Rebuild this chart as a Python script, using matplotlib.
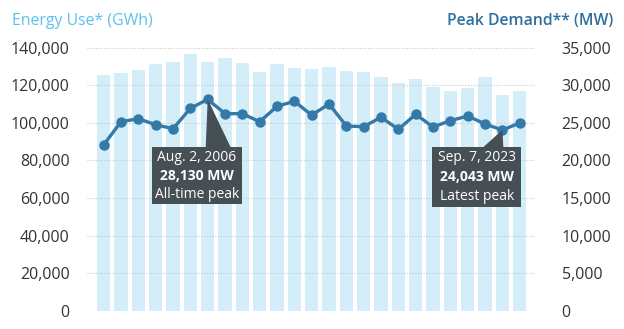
import matplotlib.pyplot as plt
from matplotlib.patches import Polygon, Rectangle
from matplotlib.ticker import FuncFormatter

years = list(range(2000, 2025))
energy_gwh = [125600, 126500, 128100, 131200, 132600, 136500, 132200, 134500,
              132000, 127100, 131200, 129200, 128600, 129600, 127600, 127200,
              124400, 121400, 123500, 119100, 116900, 118700, 124200, 114800,
              116900]
peak_mw = [22090, 25150, 25550, 24750, 24220, 26930, 28130, 26220, 26220,
           25150, 27200, 27870, 26030, 27510, 24580, 24490, 25740, 24140,
           26140, 24450, 25290, 25910, 24850, 24043, 24980]

# year, date line, note line,
# box (left, right, top, bottom) and wedge base (x0, x1) in pixels from the marker
callouts = [
    (2006, 'Aug. 2, 2006', 'All-time peak', (-56, 34, -48, -105), (-2, 23)),
    (2023, 'Sep. 7, 2023', 'Latest peak', (-70, 19, -17, -77), (-19, 1)),
]

plt.rcParams['font.family'] = ['Open Sans', 'DejaVu Sans']

bar_color = '#d3eef9'
line_color = '#3479a7'
box_color = '#464f54'
tick_color = '#333333'

fig = plt.figure(figsize=(6.24, 3.29), dpi=100)
ax = fig.add_axes([0.139, 0.0556, 0.718, 0.7994])
ax2 = ax.twinx()

x = list(range(len(years)))
ax.bar(x, energy_gwh, width=0.76, color=bar_color, zorder=1)
ax.set_ylim(0, 140000)
ax.set_xlim(-0.98, len(years) - 0.13)
ax.set_yticks(range(0, 140001, 20000))
ax.yaxis.set_major_formatter(FuncFormatter(lambda v, p: f'{int(v):,}'))
for y in range(20000, 140001, 20000):
    ax.axhline(y, color='#c9c9c9', lw=0.8, ls=(0, (1, 1.5)), zorder=2)

ax2.plot(x, peak_mw, color=line_color, lw=2.4, marker='o', ms=6.5, zorder=3)
ax2.set_ylim(0, 35000)
ax2.set_yticks(range(0, 35001, 5000))
ax2.yaxis.set_major_formatter(FuncFormatter(lambda v, p: f'{int(v):,}'))

for a in (ax, ax2):
    for s in a.spines.values():
        s.set_visible(False)
    a.tick_params(length=0, labelsize=11.5, labelcolor=tick_color)
    for lab in a.get_yticklabels():
        lab.set_fontweight('medium')
ax.tick_params(axis='y', pad=12.2)
ax2.tick_params(axis='y', pad=19.4)
ax.set_xticks([])

fig.text(0.019, 0.935, 'Energy Use* (GWh)', color='#5cc1ea', fontsize=11.4,
         ha='left', va='center')
fig.text(0.982, 0.935, 'Peak Demand** (MW)', color='#2d6f9f', fontsize=11.3,
         ha='right', va='center', fontweight='semibold')

# callout boxes with a pointer wedge up to the marker
fig.canvas.draw()
for yr, date, note, box, base in callouts:
    i = years.index(yr)
    px, py = ax2.transData.transform((i, peak_mw[i]))
    left, right, top, bottom = box
    fig.patches.append(Rectangle((px + left, py + bottom), right - left,
                                 top - bottom, transform=None, fc=box_color,
                                 ec='none', zorder=4))
    fig.patches.append(Polygon([(px, py), (px + base[0], py + top),
                                (px + base[1], py + top)], closed=True,
                               transform=None, fc=box_color, ec='none',
                               zorder=4))
    cx = px + (left + right) / 2
    step = (top - bottom) / 3.1
    mid = py + (top + bottom) / 2
    lines = [(date, 'normal', mid + step), (f'{peak_mw[i]:,} MW', 'bold', mid),
             (note, 'normal', mid - step)]
    for s, w, ty in lines:
        fig.text(cx, ty, s, transform=None, ha='center', va='center',
                 color='white', fontsize=10, fontweight=w, zorder=5)

fig.savefig('out.png', dpi=100)
